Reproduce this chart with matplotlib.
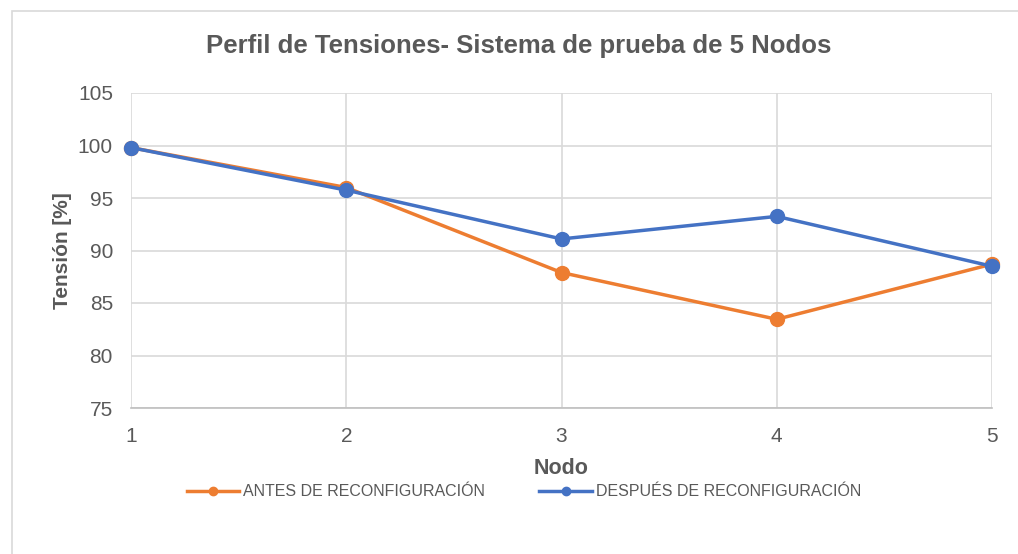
import matplotlib.pyplot as plt
from matplotlib.patches import Rectangle

plt.rcParams['font.family'] = ['Liberation Sans', 'DejaVu Sans']

# Datos
nodos = [1, 2, 3, 4, 5]
antes = [99.8, 96.0, 87.9, 83.45, 88.7]
despues = [99.8, 95.75, 91.1, 93.25, 88.5]
yticks = [75, 80, 85, 90, 95, 100, 105]

gris = '#595959'
naranja = '#ED7D31'
azul = '#4472C4'

fig = plt.figure(figsize=(10.18, 5.54), dpi=100)
W, H = 1018, 554
ax = fig.add_axes([131 / W, 1 - 408 / H, (992 - 131) / W, (408 - 93) / H])

# Borde del area del grafico
fig.patches.append(Rectangle((12 / W, -0.1), 1.2, 1 - 11 / H + 0.1, transform=fig.transFigure,
                             fill=False, edgecolor='#D9D9D9', linewidth=1.2))

ax.plot(nodos, antes, color=naranja, linewidth=2.5, marker='o', markersize=10,
        label='ANTES DE RECONFIGURACIÓN', clip_on=False, zorder=3)
ax.plot(nodos, despues, color=azul, linewidth=2.5, marker='o', markersize=10,
        label='DESPUÉS DE RECONFIGURACIÓN', clip_on=False, zorder=4)

ax.set_xlim(1, 5)
ax.set_ylim(75, 105)
ax.set_xticks(nodos)
ax.set_yticks(yticks)
ax.grid(True, color='#D9D9D9', linewidth=1.2)
ax.set_axisbelow(True)
for s in ['top', 'right', 'left']:
    ax.spines[s].set_visible(False)
ax.spines['bottom'].set_color('#BFBFBF')
ax.spines['bottom'].set_linewidth(1.2)
ax.tick_params(length=0, labelsize=15, labelcolor=gris)
ax.tick_params(axis='y', pad=13)
ax.tick_params(axis='x', pad=14)

fig.text(519 / W, 1 - 46 / H, 'Perfil de Tensiones- Sistema de prueba de 5 Nodos', fontsize=18.5,
         fontweight='bold', color=gris, ha='center', va='center')
ax.set_xlabel('Nodo', fontsize=15.5, fontweight='bold', color=gris, labelpad=8)
ax.set_ylabel('Tensión [%]', fontsize=15, fontweight='bold', color=gris, labelpad=4)

fig.legend(loc='center', bbox_to_anchor=(524 / W, 1 - 492 / H),
           ncol=2, frameon=False, fontsize=11.5, handlelength=3.3, markerscale=0.6,
           columnspacing=3.4, handletextpad=0.25, labelcolor=gris)

fig.savefig('out.png', dpi=100)
